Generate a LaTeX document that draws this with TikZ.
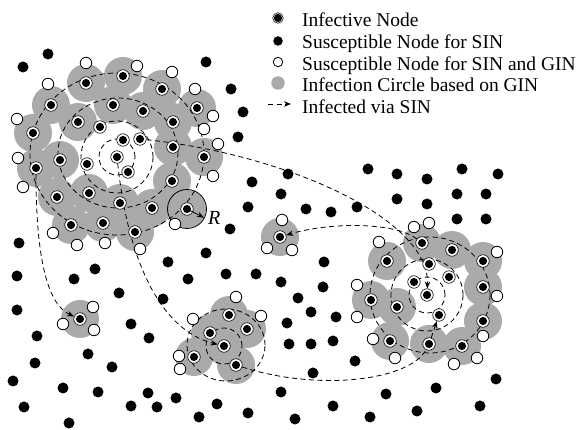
\documentclass[tikz,border=0pt]{standalone}
\usepackage{fontspec}
\setmainfont{Liberation Serif}
\usetikzlibrary{arrows.meta, backgrounds, positioning}
\definecolor{infgray}{RGB}{170,170,170}

% infective nodes that carry an infection circle
\newcommand{\topzone}{86/83,123/76,162/89,197/108,51/105,113/105,143/111,173/122,78/122,33/133,173/147,204/157,60/160,36/168,172/181,57/197,89/193,120/203,152/208,71/225,103/223,135/232}
\newcommand{\lowzone}{229/315,210/333,247/329,224/346,194/357,236/365}
\newcommand{\rightzone}{422/243,452/250,483/261,387/261,483/287,371/300,397/307,483/321,390/341,429/344,462/346}

\begin{document}
\begin{tikzpicture}[x=1pt, y=-1pt, >={Stealth[length=7pt,width=5.5pt]},
  sus/.style={circle,fill=black,minimum size=11pt,inner sep=0pt},
  susw/.style={circle,draw,line width=0.8pt,fill=white,minimum size=11.5pt,inner sep=0pt},
  inf/.style={circle,draw,line width=0.6pt,fill=white,minimum size=12.5pt,inner sep=0pt,
    path picture={\fill[black] (path picture bounding box.center) circle (4.1pt);}},
  ring/.style={line width=0.8pt,dash pattern=on 5pt off 3.5pt},
  legtxt/.style={anchor=base west,inner sep=0pt,font=\fontsize{19.5}{23}\selectfont}]
  \useasboundingbox (0,0) rectangle (582,430);

  % infection circles
  \begin{scope}[on background layer]
    \foreach \x/\y in \topzone {\fill[infgray] (\x,\y) circle (19pt);}
    \foreach \x/\y in \lowzone {\fill[infgray] (\x,\y) circle (19pt);}
    \foreach \x/\y in \rightzone {\fill[infgray] (\x,\y) circle (19pt);}
    \foreach \x/\y in {80/319,280/237,187/209} {\fill[infgray] (\x,\y) circle (19pt);}
  \end{scope}

  % infective nodes
  \foreach \x/\y [count=\i] in \topzone {\node[inf] (ta\i) at (\x,\y) {};}
  \foreach \x/\y [count=\i] in \lowzone {\node[inf] (bb\i) at (\x,\y) {};}
  \foreach \x/\y [count=\i] in \rightzone {\node[inf] (rr\i) at (\x,\y) {};}
  \foreach \x/\y [count=\i] in {100/127,123/140,140/139,117/157,128/172,87/164} {\node[inf] (ti\i) at (\x,\y) {};}
  \foreach \x/\y [count=\i] in {429/264,414/282,449/277,427/295,439/315} {\node[inf] (ri\i) at (\x,\y) {};}
  \node[inf] (iso1) at (80,319) {};
  \node[inf] (iso2) at (280,237) {};
  \node[inf] (rnode) at (187,209) {};

  % susceptible nodes for SIN and GIN
  \foreach \x/\y [count=\i] in {86/63,137/66,172/72,48/84,195/89,17/119,213/116,204/129,218/144,18/158,213/176,23/187,175/224,53/233,77/245,105/243,140/249,
    236/297,193/319,261/316,179/356,180/369,
    414/227,429/223,379/242,497/252,357/285,497/296,357/317,483/336,373/339,395/358,454/364,477/358,
    93/307,63/324,94/330,282/220,267/248,292/250}
    {\node[susw] (w\i) at (\x,\y) {};}

  % susceptible nodes for SIN
  \foreach \x/\y [count=\i] in {48/54,23/67,206/62,231/89,243/112,238/137,252/182,248/207,230/229,19/243,
    288/174,281/194,306/209,331/212,357/207,368/169,397/174,397/199,
    427/179,462/169,498/174,427/204,457/194,486/194,457/219,486/219,
    206/253,324/262,226/274,256/274,281/282,323/287,298/298,
    311/312,336/317,287/323,289/344,311/344,333/341,355/361,
    95/269,74/279,168/262,188/279,17/276,119/293,163/299,17/310,131/324,149/338,37/336,35/363,88/354,112/367,
    13/381,63/388,98/392,148/393,176/398,24/407,69/423,131/406,157/407,
    313/373,281/392,217/404,199/417,248/413,295/419,333/406,370/417,386/394,417/411,436/388,480/406,496/379}
    {\node[sus] (s\i) at (\x,\y) {};}

  % spreading rings and infection paths
  \begin{scope}[on background layer]
    \draw[ring] (ti4) circle (18pt);
    \draw[ring] (ti4) circle (36pt);
    \draw[ring] (118,153) ellipse [x radius=60pt, y radius=55pt];
    \draw[ring] (117,154) ellipse [x radius=87pt, y radius=81pt];
    \draw[ring] (bb4) circle (18pt);
    \draw[ring] (226,345) ellipse [x radius=39pt, y radius=36pt];
    \draw[ring] (ri4) circle (18pt);
    \draw[ring] (ri4) circle (36pt);
    \draw[ring] (430,295) ellipse [x radius=60pt, y radius=58pt];
    \draw[line width=0.8pt] (rnode.center) circle (19.5pt);
    \draw[ring,->] (ti3) .. controls (290,155) and (430,220) .. (ri4);
    \draw[ring,->] (ti4) .. controls (128,260) and (160,330) .. (bb4);
    \draw[ring,->] (ta14) .. controls (36,260) and (48,305) .. (iso1);
    \draw[ring] (bb6) .. controls (320,392) and (410,380) .. (rr10);
    \draw[ring,->] (rr10) -- (ri5);
    \draw[ring,->] (rr1) .. controls (395,222) and (330,222) .. (iso2);
  \end{scope}

  % radius of infection
  \coordinate (rtip) at ([shift={(-27:19pt)}]rnode.center);
  \draw[->,line width=0.8pt] (rnode.center) -- (rtip);
  \node[anchor=west,inner sep=0pt,font=\fontsize{20}{23}\selectfont\itshape] (rlab) at (208,218) {R};

  % legend
  \node[inf,minimum size=10.5pt] (kinf) at (278,18) {};
  \node[sus,minimum size=9.5pt] (ksus) at (278,41) {};
  \node[susw,minimum size=9.5pt] (ksusw) at (278,62) {};
  \node[circle,fill=infgray,minimum size=13.5pt,inner sep=0pt] (kzone) at (278,83) {};
  \coordinate (karrs) at (268,104);
  \coordinate (karre) at (291,104);
  \draw[ring,->] (karrs) -- (karre);
  \node[legtxt] (tinf) at (302,26.5) {Infective Node};
  \node[legtxt] (tsus) at (302,49) {Susceptible Node for SIN};
  \node[legtxt] (tsusw) at (302,70.5) {Susceptible Node for SIN and GIN};
  \node[legtxt] (tzone) at (302,92) {Infection Circle based on GIN};
  \node[legtxt] (tvia) at (302,113.5) {Infected via SIN};
\end{tikzpicture}
\end{document}
